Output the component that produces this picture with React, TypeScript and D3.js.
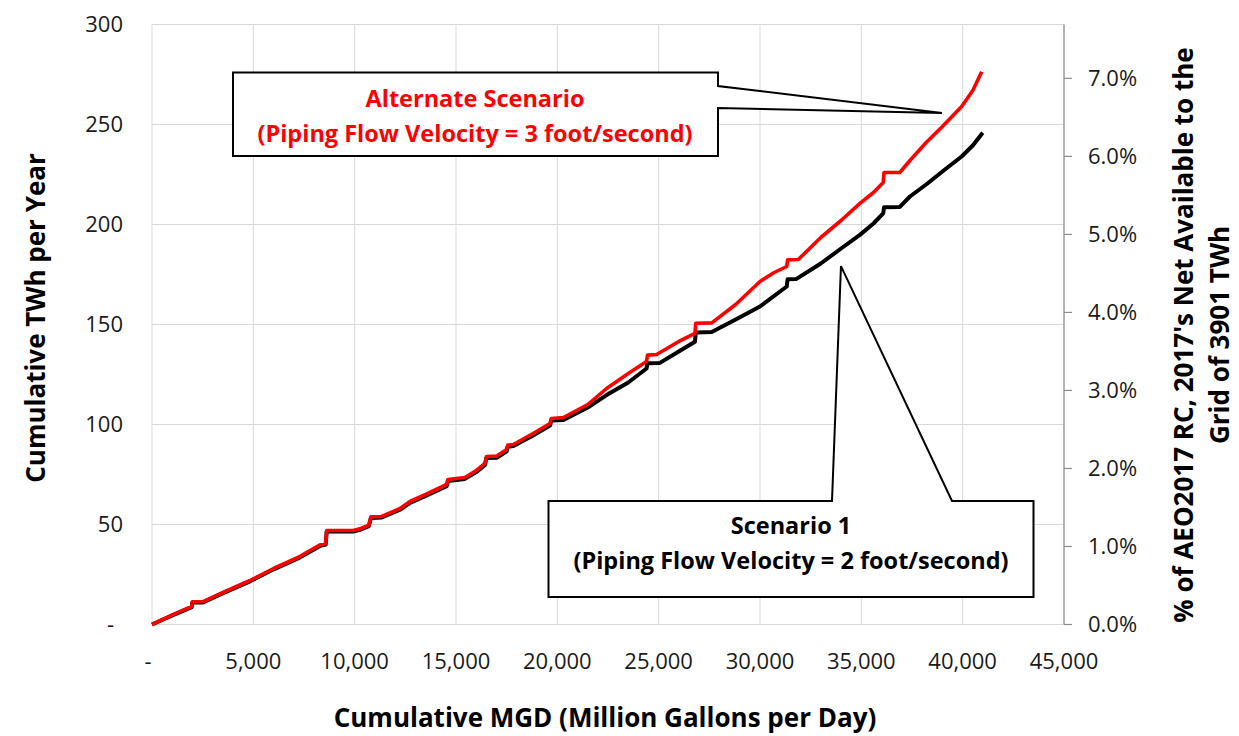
import React from "react";
import * as d3 from "d3";

// ---- data ----
const xTickValues = [0, 5000, 10000, 15000, 20000, 25000, 30000, 35000, 40000, 45000];
const yTickValues = [0, 50, 100, 150, 200, 250, 300];
const rightTickValues = [0, 0.01, 0.02, 0.03, 0.04, 0.05, 0.06, 0.07];
const gridTotalTWh = 3901;

// Alternate scenario (3 ft/s) - cumulative MGD vs cumulative TWh/yr
const alternateMGD = [0, 1000, 1960, 1990, 2520, 3500, 4835, 6000, 7200, 8290, 8570, 8620, 9930, 10300, 10700, 10800, 11330, 12240, 12730, 13500, 14540, 14600, 15440, 16000, 16430, 16500, 17010, 17500, 17550, 17830, 18800, 19640, 19700, 20300, 21500, 22430, 23500, 24400, 24450, 24900, 25970, 26790, 26830, 27620, 28800, 30000, 30700, 31320, 31360, 31890, 33000, 34000, 34930, 35600, 36080, 36120, 36900, 37400, 38200, 39000, 39950, 40500, 40940];
const alternateTWh = [0, 4.8, 9, 11.4, 11.4, 16, 22, 28, 33.5, 39.8, 40.5, 47, 47, 48, 49.7, 53.8, 54, 58, 61.5, 65, 70, 72.5, 73.5, 77, 80.6, 84, 84.2, 87.5, 89.7, 90, 95.5, 100.5, 103, 103.5, 110, 118, 125.5, 131.5, 134.7, 135, 141.4, 145.6, 150.6, 150.8, 160, 171.5, 176, 179, 182.3, 182.5, 193.5, 202, 210.6, 216, 221, 226, 226, 232, 241, 249, 259, 267, 276.4];

// Scenario 1 (2 ft/s)
const scenario1MGD = [0, 1000, 1960, 1990, 2520, 3500, 4835, 6000, 7200, 8290, 8570, 8620, 9930, 10300, 10700, 10800, 11330, 12240, 12730, 13500, 14540, 14600, 15440, 16000, 16430, 16500, 17010, 17500, 17550, 17830, 18800, 19640, 19700, 20300, 21500, 22430, 23500, 24400, 24450, 25060, 25970, 26790, 26830, 27620, 28800, 30000, 31320, 31360, 31800, 33000, 34000, 34930, 35600, 36080, 36120, 36900, 37400, 38200, 39000, 39950, 40500, 40990];
const scenario1TWh = [0, 4.5, 8.7, 11, 11, 15.6, 21.6, 27.6, 33, 39.3, 40, 46.5, 46.5, 47.5, 49.2, 53.3, 53.5, 57.4, 60.8, 64.3, 69.2, 71.8, 72.8, 76.2, 79.8, 83.2, 83.4, 86.6, 88.9, 89.2, 94.5, 99.5, 102, 102.3, 108.5, 114.7, 121, 128, 130.6, 130.8, 136.4, 141.4, 146, 146.2, 152.5, 159, 169, 172.6, 172.8, 180.5, 188, 194.8, 200.5, 205.6, 208.6, 208.8, 214, 220, 226.5, 234, 239.5, 245.9];

// annotation tips (data coordinates)
const alternateTip = [38980, 255.8];
const scenario1Tip = [33995, 179.2];

const W = 1239;
const H = 736;
const left = 152;
const right = 1064;
const top = 24.5;
const bottom = 624.5;

const FONT = "'Open Sans', 'Liberation Sans', sans-serif";

export default function App() {
  const x = d3.scaleLinear().domain([0, 45000]).range([left, right]);
  const y = d3.scaleLinear().domain([0, 300]).range([bottom, top]);
  const yR = d3.scaleLinear().domain([0, 300 / gridTotalTWh]).range([bottom, top]);

  const makePath = (xs: number[], ys: number[]) =>
    d3
      .line<[number, number]>()
      .x((d) => x(d[0]))
      .y((d) => y(d[1]))(xs.map((v, i) => [v, ys[i]] as [number, number])) || "";

  const altPath = makePath(alternateMGD, alternateTWh);
  const s1Path = makePath(scenario1MGD, scenario1TWh);

  const fmtX = d3.format(",");
  const fmtR = d3.format(".1%");

  const aTipX = x(alternateTip[0]);
  const aTipY = y(alternateTip[1]);
  const sTipX = x(scenario1Tip[0]);
  const sTipY = y(scenario1Tip[1]);

  const redBox = `M233,72.5 H718 V86 L${aTipX},${aTipY} L718,108 V156 H233 Z`;
  const blackBox = `M548.5,501 H832 L${sTipX},${sTipY} L952,501 H1033.5 V597 H548.5 Z`;

  const tickFs = 22;
  const boxFs = 23.5;
  const titleFs = 26;

  return (
    <svg
      width={W}
      height={H}
      style={{ position: "absolute", left: 0, top: 0, background: "#fff" }}
      fontFamily={FONT}
    >
      <rect x={0} y={0} width={W} height={H} fill="#fff" />
      {/* gridlines */}
      {yTickValues.map((v) => (
        <line key={"gy" + v} x1={left} x2={right} y1={y(v)} y2={y(v)} stroke="#d9d9d9" strokeWidth={1} />
      ))}
      {xTickValues.map((v) => (
        <line key={"gx" + v} x1={x(v)} x2={x(v)} y1={top} y2={bottom} stroke="#d9d9d9" strokeWidth={1} />
      ))}
      {/* right axis */}
      <line x1={right} x2={right} y1={top} y2={bottom} stroke="#8c8c8c" strokeWidth={1.2} />
      {rightTickValues.map((v) => (
        <line key={"rt" + v} x1={right} x2={right + 8} y1={yR(v)} y2={yR(v)} stroke="#8c8c8c" strokeWidth={1.2} />
      ))}
      {/* left tick labels */}
      {yTickValues.map((v) => (
        <text
          key={"yl" + v}
          x={v === 0 ? 114 : 123}
          y={y(v)}
          dy="0.35em"
          textAnchor="end"
          fontSize={tickFs}
          fill="#1a1a1a"
        >
          {v === 0 ? "-" : v}
        </text>
      ))}
      {/* bottom tick labels */}
      {xTickValues.map((v) => (
        <text
          key={"xl" + v}
          x={v === 0 ? 148 : x(v)}
          y={661}
          dy="0.35em"
          textAnchor="middle"
          fontSize={tickFs}
          fill="#1a1a1a"
        >
          {v === 0 ? "-" : fmtX(v)}
        </text>
      ))}
      {/* right tick labels */}
      {rightTickValues.map((v) => (
        <text key={"rl" + v} x={1088} y={yR(v)} dy="0.35em" textAnchor="start" fontSize={tickFs} fill="#1a1a1a">
          {fmtR(v)}
        </text>
      ))}
      {/* series */}
      <path d={s1Path} fill="none" stroke="#000" strokeWidth={4} strokeLinejoin="round" />
      <path d={altPath} fill="none" stroke="#ff0000" strokeWidth={3.6} strokeLinejoin="round" />

      {/* callouts */}
      <path d={redBox} fill="#fff" stroke="#000" strokeWidth={2} />
      <text x={475} y={107} textAnchor="middle" fontSize={boxFs} fontWeight="bold" fill="#ff0000">
        Alternate Scenario
      </text>
      <text x={475} y={142} textAnchor="middle" fontSize={boxFs} fontWeight="bold" fill="#ff0000">
        (Piping Flow Velocity = 3 foot/second)
      </text>

      <path d={blackBox} fill="#fff" stroke="#000" strokeWidth={2} />
      <text x={791} y={534} textAnchor="middle" fontSize={boxFs} fontWeight="bold" fill="#000">
        Scenario 1
      </text>
      <text x={791} y={569} textAnchor="middle" fontSize={boxFs} fontWeight="bold" fill="#000">
        (Piping Flow Velocity = 2 foot/second)
      </text>

      {/* axis titles */}
      <text
        transform={`translate(45,318) rotate(-90)`}
        textAnchor="middle"
        fontSize={titleFs}
        fontWeight="bold"
        fill="#000"
      >
        Cumulative TWh per Year
      </text>
      <text x={605} y={727} textAnchor="middle" fontSize={titleFs} fontWeight="bold" fill="#000">
        Cumulative MGD (Million Gallons per Day)
      </text>
      <text
        transform={`translate(1193,335) rotate(-90)`}
        textAnchor="middle"
        fontSize={titleFs}
        fontWeight="bold"
        fill="#000"
      >
        % of AEO2017 RC, 2017's Net Available to the
      </text>
      <text
        transform={`translate(1229,335) rotate(-90)`}
        textAnchor="middle"
        fontSize={titleFs}
        fontWeight="bold"
        fill="#000"
      >
        Grid of 3901 TWh
      </text>
    </svg>
  );
}
